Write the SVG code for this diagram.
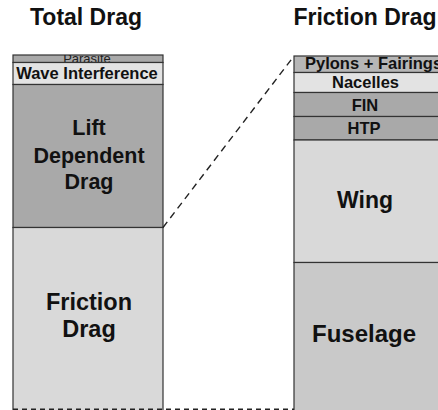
<svg xmlns="http://www.w3.org/2000/svg" width="438" height="410" viewBox="0 0 438 410">
  <style>
    .box { stroke: #333333; stroke-width: 1.2; }
    .dark { fill: #a9a9a9; }
    .mid { fill: #b6b6b6; }
    .light { fill: #d9d9d9; }
    .pale { fill: #e3e3e3; }
    .fus { fill: #c9c9c9; }
    .lbl { font-family: "Liberation Sans", Arial, Helvetica, sans-serif; font-weight: bold; fill: #111; text-anchor: middle; }
    .dash { fill: none; stroke: #222; stroke-width: 1.4; }
  </style>
  <defs>
    <clipPath id="clipParasite">
      <rect x="13" y="55" width="150" height="7.5"/>
    </clipPath>
  </defs>
  <rect width="438" height="410" fill="#ffffff"/>

  <!-- column headings -->
  <text class="lbl" x="86" y="25" font-size="23">Total Drag</text>
  <text class="lbl" x="365" y="25" font-size="23">Friction Drag</text>

  <!-- total drag breakdown -->
  <g id="parasite">
    <rect class="box dark" x="13" y="55" width="150" height="7.5"/>
    <text clip-path="url(#clipParasite)" x="87" y="62.5" font-size="13" text-anchor="middle" font-family="Liberation Sans, Arial, sans-serif" fill="#222">Parasite</text>
  </g>
  <g id="wave-interference">
    <rect class="box pale" x="13" y="62.5" width="150" height="22"/>
    <text class="lbl" x="87" y="78.5" font-size="16.5">Wave Interference</text>
  </g>
  <g id="lift-dependent-drag">
    <rect class="box dark" x="13" y="84.5" width="150" height="143"/>
    <text class="lbl" x="89" y="135" font-size="21.5">Lift</text>
    <text class="lbl" x="89" y="162.5" font-size="21.5">Dependent</text>
    <text class="lbl" x="89" y="189" font-size="21.5">Drag</text>
  </g>
  <g id="friction-drag">
    <rect class="box light" x="13" y="227.5" width="150" height="190"/>
    <text class="lbl" x="89" y="310" font-size="23.5">Friction</text>
    <text class="lbl" x="89" y="337" font-size="23.5">Drag</text>
  </g>

  <!-- friction drag breakdown -->
  <g id="pylons-fairings">
    <rect class="box mid" x="294" y="56" width="160" height="16.5"/>
    <text class="lbl" x="305" y="68.5" font-size="16.5" style="text-anchor:start">Pylons + Fairings</text>
  </g>
  <g id="nacelles">
    <rect class="box pale" x="294" y="72.5" width="160" height="20"/>
    <text class="lbl" x="365.5" y="88" font-size="16.5">Nacelles</text>
  </g>
  <g id="fin">
    <rect class="box dark" x="294" y="92.5" width="160" height="24"/>
    <text class="lbl" x="365" y="110.5" font-size="16.5">FIN</text>
  </g>
  <g id="htp">
    <rect class="box dark" x="294" y="116.5" width="160" height="23.5"/>
    <text class="lbl" x="364" y="134" font-size="16.5">HTP</text>
  </g>
  <g id="wing">
    <rect class="box light" x="294" y="140" width="160" height="122.5"/>
    <text class="lbl" x="365" y="208" font-size="23">Wing</text>
  </g>
  <g id="fuselage">
    <rect class="box fus" x="294" y="262.5" width="160" height="160"/>
    <text class="lbl" x="364" y="341.5" font-size="24">Fuselage</text>
  </g>

  <!-- expansion connectors -->
  <g id="connectors">
    <line class="dash" x1="163" y1="227.5" x2="294" y2="56" stroke-dasharray="7 5"/>
    <line class="dash" x1="13" y1="409.3" x2="294" y2="409.3" stroke="#444" stroke-dasharray="5 4"/>
  </g>
</svg>
